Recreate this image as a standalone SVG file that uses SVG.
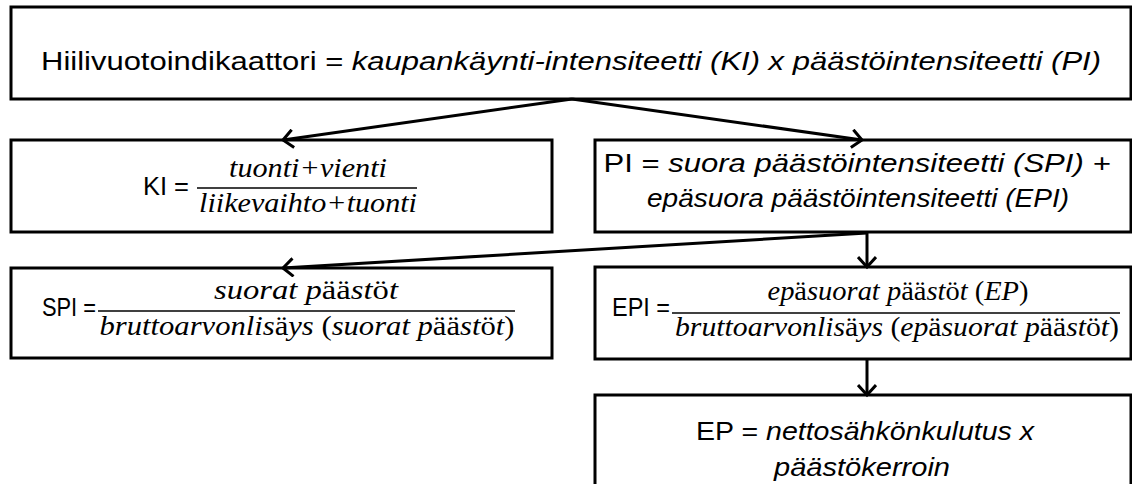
<svg xmlns="http://www.w3.org/2000/svg" width="1132" height="484" viewBox="0 0 1132 484">
<defs>
<style>
.box{fill:#fff;stroke:#000;stroke-width:3}
.t{font-family:"Liberation Sans",Arial,sans-serif;font-size:26px;fill:#000}
.i{font-style:italic}
.m{font-family:"Liberation Serif","Times New Roman",serif;font-size:27px;font-style:italic;fill:#000}
.u{font-style:normal}
.bar{stroke:#000;stroke-width:1.5}
.c{fill:none;stroke:#000;stroke-width:3}
</style>
<marker id="ah" viewBox="0 0 20 20" markerWidth="20" markerHeight="20" markerUnits="userSpaceOnUse" refX="13" refY="10" orient="auto">
<path d="M3 1 L13 10 L3 19" fill="none" stroke="#000" stroke-width="3"/>
</marker>
</defs>
<g id="top">
<rect class="box" x="11" y="7" width="1120" height="92"/>
<text class="t" x="571" y="70" text-anchor="middle" textLength="1060" lengthAdjust="spacingAndGlyphs">Hiilivuotoindikaattori = <tspan class="i">kaupankäynti-intensiteetti (KI) x päästöintensiteetti (PI)</tspan></text>
</g>
<g id="ki">
<rect class="box" x="11" y="140" width="541" height="92"/>
<text class="t" x="143" y="195" textLength="46" lengthAdjust="spacingAndGlyphs">KI =</text>
<text class="m" x="308" y="177" text-anchor="middle" textLength="158" lengthAdjust="spacingAndGlyphs">tuonti+vienti</text>
<line class="bar" x1="197" y1="188" x2="417" y2="188"/>
<text class="m" x="308" y="212" text-anchor="middle" textLength="218" lengthAdjust="spacingAndGlyphs">liikevaihto+tuonti</text>
</g>
<g id="pi">
<rect class="box" x="595" y="140" width="536" height="92"/>
<text class="t" x="857" y="172" text-anchor="middle" textLength="507" lengthAdjust="spacingAndGlyphs">PI = <tspan class="i">suora päästöintensiteetti (SPI) +</tspan></text>
<text class="t i" x="858" y="207" text-anchor="middle" textLength="422" lengthAdjust="spacingAndGlyphs">epäsuora päästöintensiteetti (EPI)</text>
</g>
<g id="spi">
<rect class="box" x="11" y="268" width="541" height="90"/>
<text class="t" x="42" y="316" textLength="54" lengthAdjust="spacingAndGlyphs">SPI =</text>
<text class="m" x="306" y="299" text-anchor="middle" textLength="184" lengthAdjust="spacingAndGlyphs">suorat p<tspan class="u">ää</tspan>st<tspan class="u">ö</tspan>t</text>
<line class="bar" x1="98" y1="311" x2="515" y2="311"/>
<text class="m" x="307" y="335" text-anchor="middle" textLength="415" lengthAdjust="spacingAndGlyphs">bruttoarvonlis<tspan class="u">ä</tspan>ys <tspan class="u">(</tspan>suorat p<tspan class="u">ää</tspan>st<tspan class="u">ö</tspan>t<tspan class="u">)</tspan></text>
</g>
<g id="epi">
<rect class="box" x="595" y="267" width="536" height="92"/>
<text class="t" x="612" y="316" textLength="58" lengthAdjust="spacingAndGlyphs">EPI =</text>
<text class="m" x="898" y="300" text-anchor="middle" textLength="261" lengthAdjust="spacingAndGlyphs">ep<tspan class="u">ä</tspan>suorat p<tspan class="u">ää</tspan>st<tspan class="u">ö</tspan>t <tspan class="u">(</tspan>EP<tspan class="u">)</tspan></text>
<line class="bar" x1="672" y1="313" x2="1120" y2="313"/>
<text class="m" x="897" y="336" text-anchor="middle" textLength="444" lengthAdjust="spacingAndGlyphs">bruttoarvonlis<tspan class="u">ä</tspan>ys <tspan class="u">(</tspan>ep<tspan class="u">ä</tspan>suorat p<tspan class="u">ää</tspan>st<tspan class="u">ö</tspan>t<tspan class="u">)</tspan></text>
</g>
<g id="ep">
<rect class="box" x="595" y="395" width="536" height="95"/>
<text class="t" x="865" y="440" text-anchor="middle" textLength="338" lengthAdjust="spacingAndGlyphs">EP = <tspan class="i">nettosähkönkulutus x</tspan></text>
<text class="t i" x="862" y="476" text-anchor="middle" textLength="176" lengthAdjust="spacingAndGlyphs">päästökerroin</text>
</g>
<g id="connectors">
<line class="c" x1="572" y1="99" x2="283" y2="140" marker-end="url(#ah)"/>
<line class="c" x1="572" y1="99" x2="862" y2="140" marker-end="url(#ah)"/>
<line class="c" x1="867" y1="232" x2="867" y2="267" marker-end="url(#ah)"/>
<line class="c" x1="867" y1="233" x2="283" y2="268" marker-end="url(#ah)"/>
<line class="c" x1="867" y1="359" x2="867" y2="395" marker-end="url(#ah)"/>
</g>
</svg>
